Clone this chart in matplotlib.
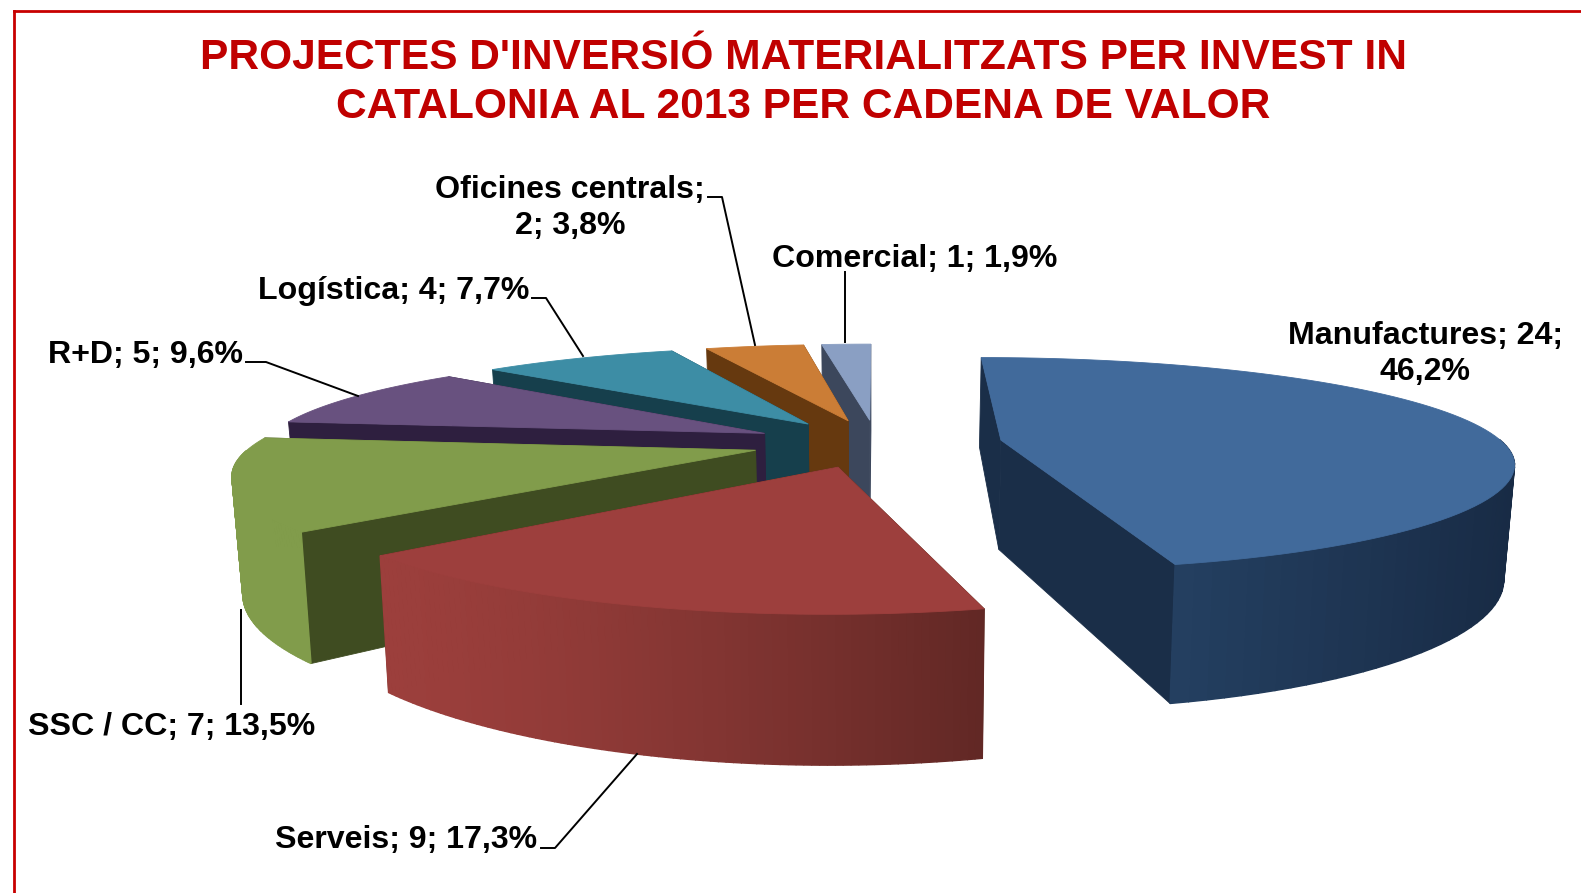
import numpy as np
import matplotlib.pyplot as plt
from matplotlib.patches import Polygon

# Данные: по часовой стрелке от 12 часов
categories = ['Manufactures', 'Serveis', 'SSC / CC', 'R+D', 'Logística', 'Oficines centrals', 'Comercial']
projects = [24, 9, 7, 5, 4, 2, 1]
percent_labels = ['46,2%', '17,3%', '13,5%', '9,6%', '7,7%', '3,8%', '1,9%']

top_colors = ['#416A9B', '#9D3F3D', '#819C4B', '#68517F', '#3D8DA5', '#CB7D36', '#8A9FC3']
side_colors = ['#1A2E48', '#3F2A12', '#3F4C21', '#2E1F3F', '#163F4C', '#66390F', '#3C475C']
wall_left = ['#28466A', '#9C3F3C', '#819C4B', '#68517F', '#3D8DA5', '#CB7D36', '#8A9FC3']
wall_right = ['#182B45', '#622825', '#819C4B', '#68517F', '#3D8DA5', '#CB7D36', '#8A9FC3']

# Геометрия псевдо-3D в пикселях
cx, cy = 877, 443
rx, ry = 502, 102
persp = 0.2213
persp_x = 0.19
explode_x = 0.25
explode_y = 0.235
height = 110
bottom_shrink = 0.983

total = sum(projects)
edges = 360 * np.cumsum([0] + projects) / total


def project(x, y, z=0.0):
    y = np.asarray(y, dtype=float)
    s = 1 / (1 + persp * y)
    sx = 1 / (1 + persp_x * y)
    shrink = 1 - (1 - bottom_shrink) * z
    return cx + rx * np.asarray(x) * sx * shrink, cy - ry * y * s + height * s * z


def rgb(c):
    return np.array(plt.matplotlib.colors.to_rgb(c))


def draw_quad(ax, xs, ys, color, zorder, lw=0.6):
    ax.add_patch(Polygon(np.column_stack([xs, ys]), closed=True, fc=color, ec=color, lw=lw, zorder=zorder))


fig = plt.figure(figsize=(15.81, 8.93), dpi=100)
ax = fig.add_axes([0, 0, 1, 1])
ax.set_xlim(0, 1581)
ax.set_ylim(893, 0)
ax.axis('off')

# Порядок отрисовки: от дальних к ближним
order = [6, 5, 4, 3, 0, 2, 1]
zorder = 2
for i in order:
    a0, a1 = np.radians(edges[i]), np.radians(edges[i + 1])
    mid = (a0 + a1) / 2
    ex, ey = explode_x * np.sin(mid), explode_y * np.cos(mid)
    t = np.linspace(a0, a1, 90)
    ox, oy = ex + np.sin(t), ey + np.cos(t)

    # радиальные стенки
    walls = [(ex + np.sin(a0), ey + np.cos(a0)), (ex + np.sin(a1), ey + np.cos(a1))]
    for (wx, wy) in sorted(walls, key=lambda p: -p[1]):
        x0, y0 = project(ex, ey)
        x1, y1 = project(wx, wy)
        x2, y2 = project(wx, wy, 1)
        x3, y3 = project(ex, ey, 1)
        draw_quad(ax, [x0, x1, x2, x3], [y0, y1, y2, y3], side_colors[i], zorder)
    zorder += 1

    # внешняя стенка с горизонтальным градиентом
    tx, ty = project(ox, oy)
    bx, by = project(ox, oy, 1)
    left, right = rgb(wall_left[i]), rgb(wall_right[i])
    span = max(tx.max() - tx.min(), 1)
    for k in range(len(t) - 1):
        if np.cos((t[k] + t[k + 1]) / 2) > 0.0:
            continue
        f = ((tx[k] - tx.min()) / span) ** 1.4
        col = left + (right - left) * f
        draw_quad(ax, [tx[k], tx[k + 1], bx[k + 1], bx[k]], [ty[k], ty[k + 1], by[k + 1], by[k]], col, zorder, lw=1.0)
    zorder += 1

    # верхняя грань
    ax0, ay0 = project(ex, ey)
    ax.add_patch(Polygon(np.column_stack([np.r_[ax0, tx], np.r_[ay0, ty]]), closed=True,
                         fc=top_colors[i], ec=top_colors[i], lw=0.6, zorder=zorder))
    zorder += 1

# Подписи и выноски
font = ['Liberation Sans', 'DejaVu Sans']
label_texts = [
    'Manufactures; 24;\n46,2%', 'Serveis; 9; 17,3%', 'SSC / CC; 7; 13,5%', 'R+D; 5; 9,6%',
    'Logística; 4; 7,7%', 'Oficines centrals;\n2; 3,8%', 'Comercial; 1; 1,9%']
label_pos = [(1425, 354), (406, 840), (172, 727), (146, 355), (394, 291), (570, 208), (915, 259)]
for txt, (lx, ly) in zip(label_texts, label_pos):
    ax.text(lx, ly, txt, ha='center', va='center', fontsize=23.1, fontweight='bold',
            family=font, color='black', linespacing=1.27, zorder=50)

leaders = [
    ([246, 266, 358], [362, 362, 396]),
    ([532, 546, 583], [298, 298, 356]),
    ([708, 722, 755], [197, 197, 345]),
    ([845, 845], [272, 342]),
    ([241, 241], [610, 704]),
    ([541, 555, 637], [848, 848, 754]),
]
for lx, ly in leaders:
    ax.plot(lx, ly, color='black', lw=1.4, zorder=49)

ax.text(803, 82.5, "PROJECTES D'INVERSIÓ MATERIALITZATS PER INVEST IN\nCATALONIA AL 2013 PER CADENA DE VALOR",
        ha='center', va='center', fontsize=30.65, fontweight='bold', family=font, color='#C00000',
        linespacing=1.27, zorder=50)

# Красная рамка
ax.plot([14, 14], [893, 11], color='#C80000', lw=2, zorder=60)
ax.plot([14, 1581], [11, 11], color='#C80000', lw=2, zorder=60)

fig.savefig('out.png', dpi=100)
